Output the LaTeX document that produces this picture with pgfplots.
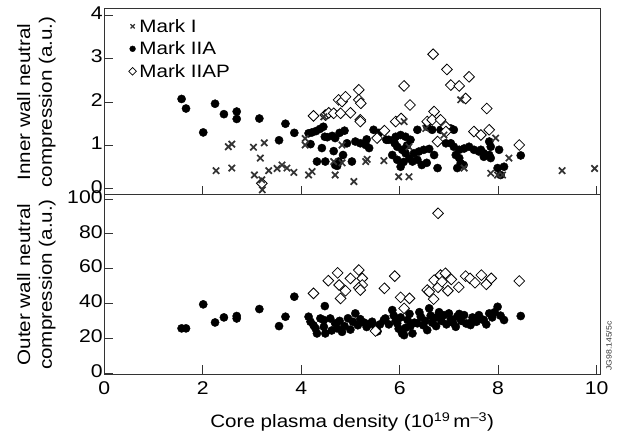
\documentclass[border=0pt]{standalone}
\usepackage{fontspec}
\setmainfont{Liberation Sans}[FakeStretch=1.15]
\usepackage{pgfplots}
\pgfplotsset{compat=1.18}

\pgfplotsset{
  myax/.style={
    scale only axis, width=495.7bp,
    xmin=0, xmax=10.07,
    axis line style={black!80, line width=1bp},
    tick style={black!80, line width=0.9bp},
    tick align=inside, major tick length=9bp,
    xtick pos=bottom, ytick pos=left,
    xtick={0,2,4,6,8,10},
    /pgf/number format/assume math mode=true,
    ticklabel style={font=\fontsize{18.5}{21}\selectfont},
    yticklabel style={inner sep=1.5bp, yshift=2bp},
    xticklabel style={yshift=-4bp},
    ylabel style={font=\fontsize{18}{22}\selectfont, at={(axis description cs:-0.137,0.5)}, anchor=center, align=center},
    xlabel style={font=\fontsize{18}{21}\selectfont},
  },
  markI/.style={only marks, mark=x, mark size=4.5bp, line width=1.7bp, black!80},
  markIIA/.style={only marks, mark=*, mark size=4.1bp, black},
  markIIAP/.style={only marks, mark=square*, mark size=3.8bp, mark options={rotate=45, fill=white, draw=black, line width=0.8bp}},
}

\begin{document}
\begin{tikzpicture}
\path[use as bounding box] (0bp,0bp) rectangle (628bp,435bp);

\begin{axis}[myax, at={(104.3bp,240bp)}, anchor=south west, height=186bp,
  ymin=-0.14, ymax=4.14, ytick={0,1,2,3,4}, xticklabels={},
  ylabel={Inner wall neutral\\compression (a.u.)},
  legend cell align=left,
  legend style={at={(axis description cs:0.049,0.963)}, anchor=north west, draw=none, fill=none,
    font=\fontsize{18}{21}\selectfont, row sep=2bp, inner sep=0pt, nodes={inner sep=3bp}},
  legend image code/.code={\draw[mark repeat=2,mark phase=2,#1] plot coordinates {(0bp,0bp)(6bp,0bp)(12bp,0bp)};},
  legend entries={Mark I, Mark IIA, Mark IIAP}]
\addlegendimage{only marks, mark=x, mark size=3bp, line width=1.2bp, black!80}
\addlegendimage{only marks, mark=*, mark size=2.9bp, black}
\addlegendimage{only marks, mark=square*, mark size=2.7bp, mark options={rotate=45, fill=white, draw=black, line width=0.7bp}}

% Mark IIA
\addplot[markIIA, forget plot] coordinates {
(1.57,2.07) (1.66,1.85) (2.01,1.30) (2.25,1.96) (2.43,1.72) (2.69,1.78) (2.69,1.61)
(3.15,1.62) (3.55,1.12) (3.68,1.50) (3.86,1.29) (4.15,1.28) (4.19,1.03) (4.22,1.30)
(4.30,1.33) (4.38,1.38) (4.45,1.43) (4.42,0.94) (4.32,0.63) (4.49,0.63) (4.48,1.20)
(4.53,1.19) (4.63,1.22) (4.69,1.17) (4.78,1.29) (4.88,1.34) (4.66,0.87) (4.69,0.55)
(4.76,0.63) (4.73,0.53) (4.85,0.78) (4.93,1.05) (5.03,0.63) (5.10,1.09) (5.20,1.05)
(5.31,1.01) (5.38,0.94) (5.47,1.36) (5.58,1.29) (5.33,1.14) (5.73,1.13) (5.78,1.13)
(5.92,1.20) (6.02,1.24) (6.12,1.20) (6.22,1.13) (5.95,0.97) (6.05,0.90) (6.12,0.82)
(5.85,0.78) (5.95,0.67) (6.02,0.51) (6.08,0.62) (5.90,1.05) (6.15,1.00) (6.20,0.70)
(6.29,0.82) (6.39,0.86) (6.49,0.90) (6.60,0.92) (6.70,0.78) (6.26,0.63) (6.36,0.67)
(6.45,0.55) (6.55,0.60) (6.77,0.48) (6.36,1.36) (6.56,1.43) (6.66,1.36) (6.83,1.36)
(6.94,1.32) (7.04,1.39) (7.10,1.36) (6.94,1.05) (7.04,1.05) (7.10,0.97) (7.21,0.90)
(7.31,0.93) (7.41,0.97) (7.51,0.90) (7.61,0.86) (7.71,0.82) (7.82,0.78) (7.14,0.78)
(7.21,0.71) (7.24,0.59) (7.17,0.48) (7.30,0.55) (7.65,0.90) (7.71,0.74) (7.82,1.09)
(7.85,0.97) (8.02,0.90) (7.85,0.71) (7.99,0.48) (8.12,0.51) (8.46,0.77) (8.05,0.32)
};
% Mark IIAP
\addplot[markIIAP, forget plot] coordinates {
(3.20,0.13) (4.25,1.68) (4.49,1.70) (4.56,1.75) (4.66,1.74) (4.80,1.74) (5.00,1.75)
(4.76,2.05) (4.83,2.01) (4.90,2.12) (5.17,2.28) (5.17,2.05) (5.21,1.97) (5.20,1.59)
(5.20,1.55) (5.54,1.17) (5.69,1.34) (5.92,1.55) (6.03,1.62) (6.09,2.37) (6.21,1.93)
(6.68,3.10) (6.96,2.75) (7.04,2.39) (7.21,2.37) (7.41,2.58) (7.34,2.08) (7.77,1.85)
(6.70,1.78) (6.56,1.55) (6.66,1.59) (6.83,1.59) (6.94,1.43) (6.94,1.32) (6.77,1.09)
(7.51,1.32) (7.65,1.24) (7.82,1.36) (8.43,1.01)
};
% Mark I
\addplot[markI, forget plot] coordinates {
(2.27,0.42) (2.52,0.97) (2.59,1.03) (2.59,0.48) (3.03,0.96) (3.25,1.06) (3.17,0.71)
(3.05,0.32) (3.20,0.21) (3.21,-0.02) (3.34,0.42) (3.51,0.47) (3.61,0.55) (3.71,0.48)
(3.85,0.38) (4.15,0.32) (4.22,0.40) (4.08,1.16) (4.08,1.01) (4.46,1.66) (4.69,0.32)
(5.07,0.17) (4.66,0.63) (4.83,0.60) (4.83,1.01) (5.31,0.63) (5.34,0.68) (5.68,0.65)
(6.09,1.55) (6.19,0.97) (5.98,0.28) (6.19,0.28) (6.53,1.39) (6.90,1.24) (7.24,2.05)
(7.31,0.48) (7.85,0.36) (7.95,1.17) (8.22,0.71) (7.99,0.32) (8.09,0.32) (9.30,0.42)
(9.96,0.47)
};
\end{axis}

\begin{axis}[myax, at={(104.3bp,61bp)}, anchor=south west, height=179bp,
  ymin=-0.5, ymax=102.3, ytick={0,20,40,60,80,100},
  xlabel={Core plasma density (10\textsuperscript{19}\,m\textsuperscript{–3})},
  xlabel style={at={(axis description cs:0.5,-0.268)}, anchor=center},
  ylabel={Outer wall neutral\\compression (a.u.)}]
% Mark IIA
\addplot[markIIA] coordinates {
(1.57,25.7) (1.66,25.7) (2.01,39.5) (2.25,29.1) (2.43,32.0) (2.69,32.8) (2.69,31.4)
(3.15,36.8) (3.55,27.0) (3.68,32.4) (3.86,43.9)
(4.15,32.4) (4.19,29.5) (4.25,27.5) (4.29,25.7) (4.32,22.8) (4.39,31.4) (4.46,30.5)
(4.48,38.5) (4.46,26.6) (4.49,22.8) (4.59,31.4) (4.69,28.6) (4.73,25.7) (4.62,24.5)
(4.78,30.0) (4.83,23.7) (4.88,27.0) (4.95,31.5) (5.00,25.0) (5.05,29.5) (5.10,34.3)
(5.15,27.5) (5.20,31.0) (5.28,29.0) (5.33,26.5) (5.40,28.5) (5.44,29.5) (5.50,27.0)
(5.55,24.0) (5.60,28.0) (5.68,30.5) (5.71,31.4) (5.78,28.0) (5.85,36.2) (5.88,33.0)
(5.92,30.0) (5.95,28.6) (5.98,25.5) (6.02,32.0) (6.05,22.8) (6.09,21.8) (6.12,26.0)
(6.16,30.5) (6.20,34.0) (6.22,27.0) (6.26,22.8) (6.30,29.0) (6.36,28.6) (6.40,35.0)
(6.43,32.4) (6.48,27.5) (6.52,30.0) (6.56,24.7) (6.60,37.2) (6.63,33.0) (6.66,29.0)
(6.70,31.5) (6.74,27.0) (6.77,32.4) (6.80,35.0) (6.85,30.0) (6.90,33.3) (6.95,28.0)
(7.00,34.3) (7.04,31.0) (7.08,29.0) (7.14,26.6) (7.17,32.5) (7.21,34.0) (7.25,30.0)
(7.31,33.3) (7.35,28.5) (7.41,28.6) (7.44,27.6) (7.48,32.0) (7.51,31.4) (7.56,29.5)
(7.61,33.3) (7.66,31.0) (7.71,30.5) (7.76,28.0) (7.82,34.3) (7.88,32.0) (7.93,35.0)
(7.99,38.1) (8.05,33.0) (8.12,30.5) (8.46,32.8)
};
% Mark IIAP
\addplot[markIIAP] coordinates {
(4.25,45.8) (4.55,53.1) (4.74,57.6) (4.77,50.6) (4.80,42.9) (4.90,47.3) (5.00,54.4)
(5.17,59.2) (5.24,54.4) (5.24,50.6) (5.17,49.0) (5.20,47.7) (5.51,24.2) (5.69,48.7)
(5.90,55.7) (6.02,43.5) (6.20,42.9) (6.09,37.2) (6.56,47.7) (6.60,46.7) (6.70,53.4)
(6.69,42.5) (6.78,49.3) (6.83,56.3) (6.93,57.3) (6.86,52.5) (6.98,47.3) (7.05,53.8)
(7.20,49.3) (7.34,55.7) (7.43,54.4) (7.53,51.9) (7.66,56.3) (7.76,51.0) (7.86,54.4)
(8.43,52.9) (6.78,91.8)
};
\end{axis}
\node[rotate=90, anchor=north west, inner sep=0pt, font=\fontsize{7.6}{9}\selectfont, text=black!80]
  at (606bp,64bp) {JG98.145/5c};
\end{tikzpicture}
\end{document}
